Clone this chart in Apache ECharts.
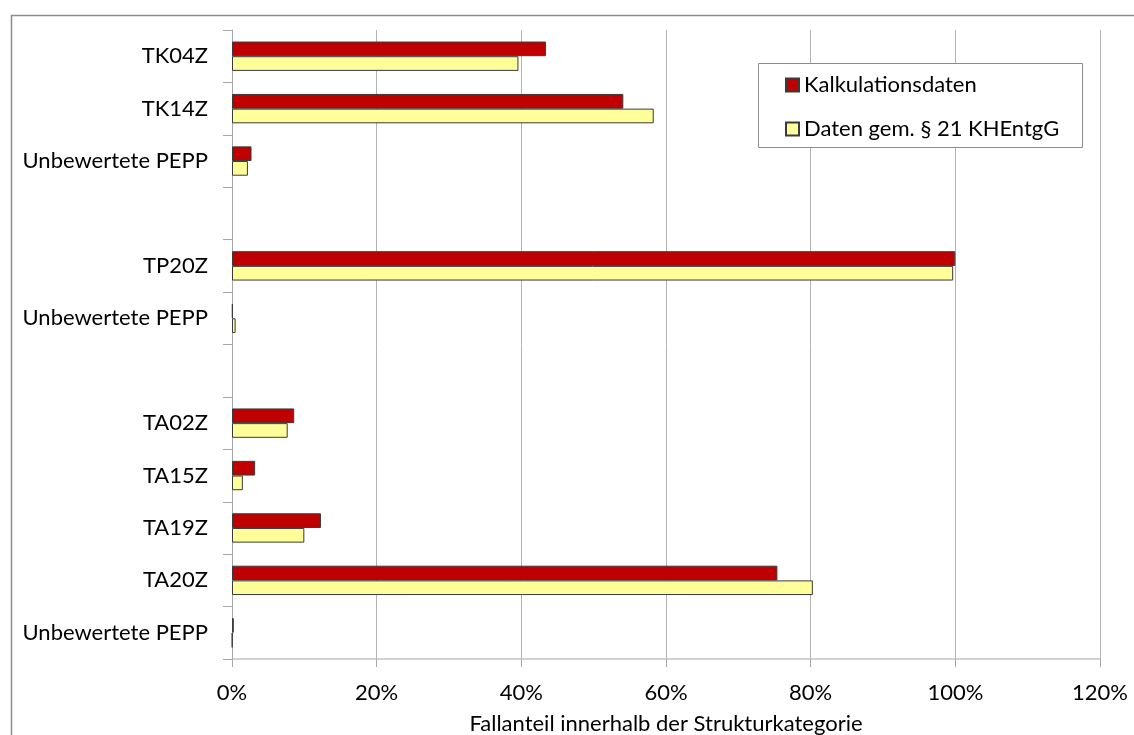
<!DOCTYPE html>
<html>
<head>
<meta charset="utf-8">
<script src="https://cdn.jsdelivr.net/npm/echarts@6/dist/echarts.min.js"></script>
<style>
html,body{margin:0;padding:0;background:#fff;}
#chart{width:1134px;height:735px;}
</style>
</head>
<body>
<div id="chart"></div>
<script>
const categories = ['TK04Z', 'TK14Z', 'Unbewertete PEPP', '', 'TP20Z', 'Unbewertete PEPP', '', 'TA02Z', 'TA15Z', 'TA19Z', 'TA20Z', 'Unbewertete PEPP'];
const kalkulationsdaten = [43.4, 54.1, 2.7, null, 100.0, 0.1, null, 8.6, 3.2, 12.3, 75.4, 0.25];
const daten21 = [39.6, 58.3, 2.2, null, 99.7, 0.5, null, 7.7, 1.5, 10.0, 80.3, 0.05];
const xTicks = [0, 20, 40, 60, 80, 100, 120];
const seriesNames = ['Kalkulationsdaten', 'Daten gem. § 21 KHEntgG'];

const FONT = 'Lato';
const FS = 22;
const chart = echarts.init(document.getElementById('chart'), null, {renderer: 'canvas'});
chart.setOption({
  animation: false,
  backgroundColor: '#ffffff',
  textStyle: {fontFamily: FONT},
  graphic: [
    {type: 'rect', left: 9, top: 13, shape: {width: 1140, height: 740},
     style: {fill: 'none', stroke: '#8c8c8c', lineWidth: 1.5}, silent: true, z: 0},
    {type: 'rect', left: 758, top: 63, shape: {width: 324, height: 84},
     style: {fill: '#ffffff', stroke: '#8c8c8c', lineWidth: 1}, silent: true, z: 50}
  ],
  legend: {
    orient: 'vertical',
    left: 780,
    top: 69,
    z: 60,
    itemWidth: 13,
    itemHeight: 13,
    itemGap: 22,
    icon: 'rect',
    textStyle: {fontFamily: FONT, fontSize: FS, color: '#000'},
    data: seriesNames
  },
  grid: {left: 232, right: 34, top: 30, bottom: 76, containLabel: false, outerBoundsMode: 'none'},
  xAxis: {
    type: 'value',
    min: xTicks[0],
    max: xTicks[xTicks.length - 1],
    interval: 20,
    name: 'Fallanteil innerhalb der Strukturkategorie',
    nameLocation: 'middle',
    nameGap: 54,
    nameTextStyle: {fontFamily: FONT, fontSize: FS, color: '#000'},
    axisLine: {show: true, lineStyle: {color: '#c4c4c4', width: 1.5}},
    axisTick: {show: true, length: 8, lineStyle: {color: '#a6a6a6'}},
    axisLabel: {margin: 23, fontFamily: FONT, fontSize: FS, color: '#000', formatter: v => v + '%'},
    splitLine: {show: true, lineStyle: {color: '#b3b3b3', width: 1}}
  },
  yAxis: {
    type: 'category',
    inverse: true,
    data: categories,
    axisLine: {show: true, lineStyle: {color: '#a6a6a6', width: 1}},
    axisTick: {show: true, length: 9, alignWithLabel: false, lineStyle: {color: '#a6a6a6'}},
    axisLabel: {margin: 24, fontFamily: FONT, fontSize: FS, color: '#000', interval: 0},
    splitLine: {show: false}
  },
  series: [
    {name: seriesNames[0], type: 'bar', data: kalkulationsdaten,
     barGap: '0%', barCategoryGap: '44%',
     itemStyle: {color: '#c00000', borderColor: '#3a3a3a', borderWidth: 1}},
    {name: seriesNames[1], type: 'bar', data: daten21,
     barGap: '0%', barCategoryGap: '44%',
     itemStyle: {color: '#ffff99', borderColor: '#3a3a3a', borderWidth: 1}}
  ]
});
</script>
</body>
</html>
